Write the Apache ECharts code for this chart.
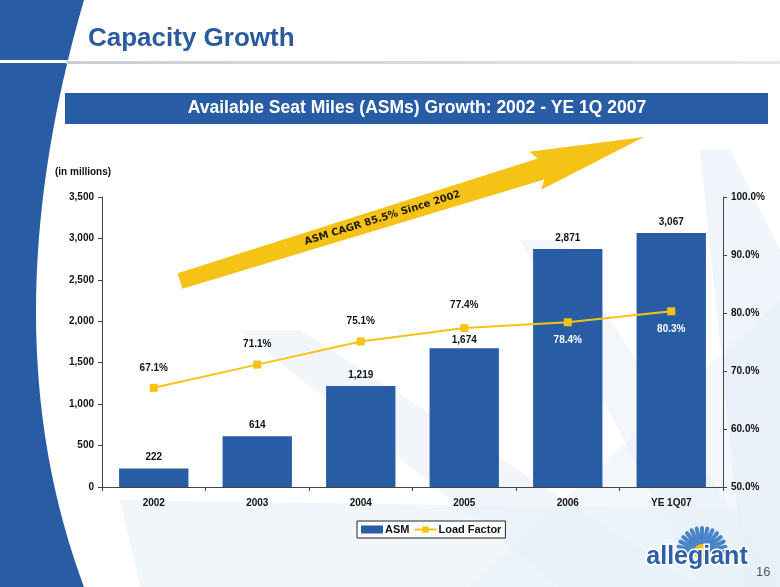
<!DOCTYPE html>
<html>
<head>
<meta charset="utf-8">
<script src="https://cdn.jsdelivr.net/npm/echarts@6/dist/echarts.min.js"></script>
<style>
html,body{margin:0;padding:0;background:#fff;}
#chart{width:780px;height:587px;}
</style>
</head>
<body>
<div id="chart"></div>
<script>
var categories = ['2002', '2003', '2004', '2005', '2006', 'YE 1Q07'];
var asmValues = [222, 614, 1219, 1674, 2871, 3067];
var loadFactor = [67.1, 71.1, 75.1, 77.4, 78.4, 80.3];
var lfLabelPos = ['top', 'top', 'top', 'top', 'bottom', 'bottom'];
var leftTicks = [0, 500, 1000, 1500, 2000, 2500, 3000, 3500];
var rightTicks = [50, 60, 70, 80, 90, 100];

var BLUE = '#285da5';
var YELLOW = '#f5c316';
var FONT = 'Liberation Sans';

var chart = echarts.init(document.getElementById('chart'), null, {renderer: 'canvas'});

function fmtNum(v) { return String(v).replace(/\B(?=(\d{3})+(?!\d))/g, ','); }

// left band outline (decoration): quadratic curve sampled
var bandPts = [[0, 0]];
for (var k = 0; k <= 40; k++) {
  var t = k / 40;
  var bx = (1 - t) * (1 - t) * 84 + 2 * t * (1 - t) * (-12) + t * t * 84;
  var by = 2 * t * (1 - t) * 330 + t * t * 587;
  bandPts.push([bx, by]);
}
bandPts.push([0, 587]);

// arrow geometry (decoration)
var S = [180, 281], T = [644, 137];
var dx = T[0] - S[0], dy = T[1] - S[1];
var L = Math.sqrt(dx * dx + dy * dy);
var ux = dx / L, uy = dy / L, nx = -uy, ny = ux;
function P(a, c) { return [S[0] + ux * a + nx * c, S[1] + uy * a + ny * c]; }
var headBase = 378;
var arrowPts = [P(0, -8), P(headBase, -11), P(headBase - 6, -20), P(L, 0), P(headBase - 6, 20), P(headBase, 11), P(0, 8)];
var angle = Math.atan2(-dy, dx);
var tc = P(212, 0);

// logo petals
var logoElems = [];
var cx = 702, cy = 552;
for (var i = 0; i <= 14; i++) {
  var a = Math.PI + i * Math.PI / 14;
  logoElems.push({
    type: 'line', silent: true,
    shape: {x1: cx + Math.cos(a) * 8, y1: cy + Math.sin(a) * 8, x2: cx + Math.cos(a) * 24, y2: cy + Math.sin(a) * 24},
    style: {stroke: '#4a84c8', lineWidth: 4, lineCap: 'round'}
  });
}
logoElems.push({type: 'circle', silent: true, shape: {cx: cx, cy: cy, r: 8}, style: {fill: '#f2c01a'}});

var barData = asmValues.map(function (v, i) {
  return {value: v, label: {distance: i === 3 ? 3 : 6}};
});

var lfData = loadFactor.map(function (v, i) {
  var bottom = lfLabelPos[i] === 'bottom';
  return {
    value: v,
    label: {
      position: lfLabelPos[i],
      distance: bottom ? 9 : (i === 3 ? 14 : 11),
      color: bottom ? '#ffffff' : '#111'
    }
  };
});

var option = {
  backgroundColor: '#ffffff',
  animation: false,
  textStyle: {fontFamily: FONT},
  graphic: [
    // light background rays
    {type: 'polygon', silent: true, z: -10, shape: {points: [[180, 587], [780, 587], [780, 300], [470, 587]]}, style: {fill: 'rgba(226,236,247,0.4)'}},
    {type: 'polygon', silent: true, z: -10, shape: {points: [[240, 330], [560, 587], [700, 587], [300, 330]]}, style: {fill: 'rgba(226,236,247,0.45)'}},
    {type: 'polygon', silent: true, z: -10, shape: {points: [[520, 240], [700, 587], [780, 587], [560, 240]]}, style: {fill: 'rgba(226,236,247,0.4)'}},
    {type: 'polygon', silent: true, z: -10, shape: {points: [[700, 150], [745, 587], [780, 587], [780, 250], [730, 150]]}, style: {fill: 'rgba(226,236,247,0.5)'}},
    {type: 'polygon', silent: true, z: -10, shape: {points: [[140, 587], [780, 587], [780, 510], [120, 500]]}, style: {fill: 'rgba(232,240,249,0.6)'}},
    // left blue band
    {type: 'polygon', silent: true, z: 1, shape: {points: bandPts}, style: {fill: BLUE}},
    // white split line + gray rule
    {type: 'rect', silent: true, z: 2, shape: {x: 0, y: 60, width: 120, height: 3}, style: {fill: '#ffffff'}},
    {type: 'rect', silent: true, z: 2, shape: {x: 66, y: 61, width: 714, height: 3},
      style: {fill: new echarts.graphic.LinearGradient(0, 0, 1, 0, [{offset: 0, color: '#c9ced6'}, {offset: 1, color: '#e4e7eb'}])}},
    // title
    {type: 'text', silent: true, z: 3, left: 88, top: 26,
      style: {text: 'Capacity Growth', font: 'bold 26px "Liberation Sans"', fill: '#2b5b9f'}},
    // banner
    {type: 'rect', silent: true, z: 3, shape: {x: 65, y: 93, width: 703, height: 31}, style: {fill: BLUE}},
    {type: 'text', silent: true, z: 4, x: 417, y: 108,
      style: {text: 'Available Seat Miles (ASMs) Growth: 2002 - YE 1Q 2007', font: 'bold 17.5px "Liberation Sans"', fill: '#ffffff', align: 'center', verticalAlign: 'middle'}},
    // in millions
    {type: 'text', silent: true, z: 4, left: 55, top: 167,
      style: {text: '(in millions)', font: 'bold 10px "Liberation Sans"', fill: '#111'}},
    // yellow arrow
    {type: 'polygon', silent: true, z: 5, shape: {points: arrowPts}, style: {fill: YELLOW}},
    {type: 'text', silent: true, z: 6, x: tc[0], y: tc[1], rotation: angle,
      style: {text: 'ASM CAGR 85.5% Since 2002', font: 'bold 10px "DejaVu Sans"', fill: '#1a1a1a', align: 'center', verticalAlign: 'middle'}},
    // logo
    {type: 'group', silent: true, z: 6, children: logoElems},
    {type: 'text', silent: true, z: 7, x: 697, y: 557,
      style: {text: 'allegiant', font: 'bold 25px "Liberation Sans"', fill: '#2c5fa8', stroke: '#ffffff', lineWidth: 3, align: 'center', verticalAlign: 'middle'}},
    {type: 'text', silent: true, z: 7, left: 756, top: 566,
      style: {text: '16', font: '13px "Liberation Sans"', fill: '#555'}}
  ],
  legend: {
    left: 357, top: 521,
    padding: [3, 4, 3, 4],
    borderColor: '#222', borderWidth: 1,
    backgroundColor: '#ffffff',
    itemGap: 4, itemWidth: 22, itemHeight: 8,
    textStyle: {fontFamily: FONT, fontWeight: 'bold', fontSize: 11, color: '#111', padding: [0, 0, 0, -3]},
    data: [{name: 'ASM', icon: 'rect'}, {name: 'Load Factor'}]
  },
  grid: {left: 102, right: 57, top: 197, bottom: 100, containLabel: false},
  xAxis: {
    type: 'category', data: categories,
    axisLine: {lineStyle: {color: '#444', width: 1}},
    axisTick: {show: true, inside: false, length: 4, lineStyle: {color: '#444'}},
    axisLabel: {margin: 11, fontFamily: FONT, fontWeight: 'bold', fontSize: 10, color: '#111'}
  },
  yAxis: [
    {
      type: 'value', min: leftTicks[0], max: leftTicks[leftTicks.length - 1], interval: 500,
      axisLine: {show: true, lineStyle: {color: '#444'}},
      axisTick: {show: true, length: 4, lineStyle: {color: '#444'}},
      splitLine: {show: false},
      axisLabel: {margin: 8, fontFamily: FONT, fontWeight: 'bold', fontSize: 10, color: '#111', formatter: function (v) { return fmtNum(v); }}
    },
    {
      type: 'value', min: rightTicks[0], max: rightTicks[rightTicks.length - 1], interval: 10,
      position: 'right',
      axisLine: {show: true, lineStyle: {color: '#444'}},
      axisTick: {show: true, length: 4, lineStyle: {color: '#444'}},
      splitLine: {show: false},
      axisLabel: {margin: 8, fontFamily: FONT, fontWeight: 'bold', fontSize: 10, color: '#111', formatter: function (v) { return v.toFixed(1) + '%'; }}
    }
  ],
  series: [
    {
      name: 'ASM', type: 'bar', data: barData, yAxisIndex: 0,
      barCategoryGap: '33%',
      itemStyle: {color: BLUE},
      label: {show: true, position: 'top', fontFamily: FONT, fontWeight: 'bold', fontSize: 10, color: '#111',
        formatter: function (p) { return fmtNum(p.value); }},
      z: 2
    },
    {
      name: 'Load Factor', type: 'line', data: lfData, yAxisIndex: 1,
      symbol: 'rect', symbolSize: 8,
      lineStyle: {color: YELLOW, width: 2},
      itemStyle: {color: YELLOW},
      label: {show: true, fontFamily: FONT, fontWeight: 'bold', fontSize: 10,
        formatter: function (p) { return p.value.toFixed(1) + '%'; }},
      z: 3
    }
  ]
};
chart.setOption(option);
</script>
</body>
</html>
